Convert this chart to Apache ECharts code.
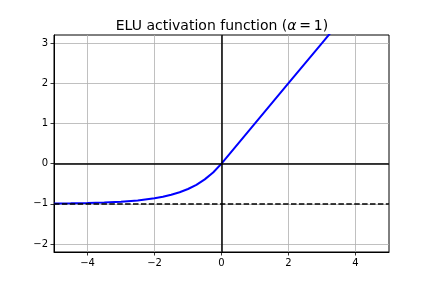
<!DOCTYPE html>
<html>
<head>
<meta charset="utf-8">
<script src="https://cdn.jsdelivr.net/npm/echarts@6/dist/echarts.min.js"></script>
<style>html,body{margin:0;padding:0;background:#fff}#c{width:432px;height:288px}</style>
</head>
<body>
<div id="c"></div>
<script>
// Values
const eluX = [-5, -4.5, -4, -3.5, -3, -2.5, -2, -1.75, -1.5, -1.25, -1, -0.75, -0.5, -0.25, 0, 1, 2, 3, 4, 5];
const eluY = [-0.993, -0.989, -0.982, -0.970, -0.950, -0.918, -0.865, -0.826, -0.777, -0.713, -0.632, -0.528, -0.393, -0.221, 0, 1, 2, 3, 4, 5];
const xTicks = [-4, -2, 0, 2, 4];
const yTicks = [-2, -1, 0, 1, 2, 3];
const xRange = [-5, 5];
const yRange = [-2.2, 3.2];
const dashedLevel = -1;

const FONT = 'DejaVu Sans';
const fmt = v => String(v).replace('-', '\u2212');

const chart = echarts.init(document.getElementById('c'), null, {renderer: 'canvas'});
chart.setOption({
  animation: false,
  backgroundColor: '#fff',
  title: {
    text: '{n|ELU activation function (}{i|\u03b1}{n|\u2009=\u20091)}',
    left: 217, top: 14, textAlign: 'center',
    textStyle: {
      fontWeight: 'normal',
      rich: {
        n: {fontFamily: FONT, fontSize: 14, fontWeight: 'normal', color: '#000'},
        i: {fontFamily: FONT, fontSize: 14, fontWeight: 'normal', fontStyle: 'italic', color: '#000'}
      }
    }
  },
  grid: {left: 54, right: 43, top: 35, bottom: 36, show: true, borderColor: '#000', borderWidth: 1, backgroundColor: 'transparent'},
  xAxis: {
    type: 'value', min: xRange[0], max: xRange[1],
    axisLine: {show: true, onZero: false, lineStyle: {color: '#000', width: 1}},
    axisTick: {show: true, customValues: xTicks, length: 3.5, lineStyle: {color: '#000', width: 0.8}},
    axisLabel: {customValues: xTicks, formatter: fmt, margin: 6, fontFamily: FONT, fontSize: 10, color: '#000'},
    splitLine: {show: true, customValues: xTicks, lineStyle: {color: '#b0b0b0', width: 0.8}}
  },
  yAxis: {
    type: 'value', min: yRange[0], max: yRange[1],
    axisLine: {show: true, onZero: false, lineStyle: {color: '#000', width: 1}},
    axisTick: {show: true, customValues: yTicks, length: 3.5, lineStyle: {color: '#000', width: 0.8}},
    axisLabel: {customValues: yTicks, formatter: fmt, margin: 6, fontFamily: FONT, fontSize: 10, color: '#000'},
    splitLine: {show: true, customValues: yTicks, lineStyle: {color: '#b0b0b0', width: 0.8}}
  },
  series: [
    {
      type: 'line',
      data: [],
      silent: true,
      markLine: {
        silent: true, symbol: 'none', label: {show: false},
        animation: false,
        data: [
          {xAxis: 0, lineStyle: {color: '#000', width: 1.5, type: 'solid'}},
          {yAxis: 0, lineStyle: {color: '#000', width: 1.5, type: 'solid'}},
          {yAxis: dashedLevel, lineStyle: {color: '#000', width: 1.5, type: [5.5, 2.4]}}
        ]
      }
    },
    {
      type: 'line',
      data: eluX.map((x, i) => [x, eluY[i]]),
      showSymbol: false,
      symbol: 'none',
      clip: true,
      lineStyle: {color: '#0000ff', width: 2},
      z: 3
    }
  ]
});
</script>
</body>
</html>
